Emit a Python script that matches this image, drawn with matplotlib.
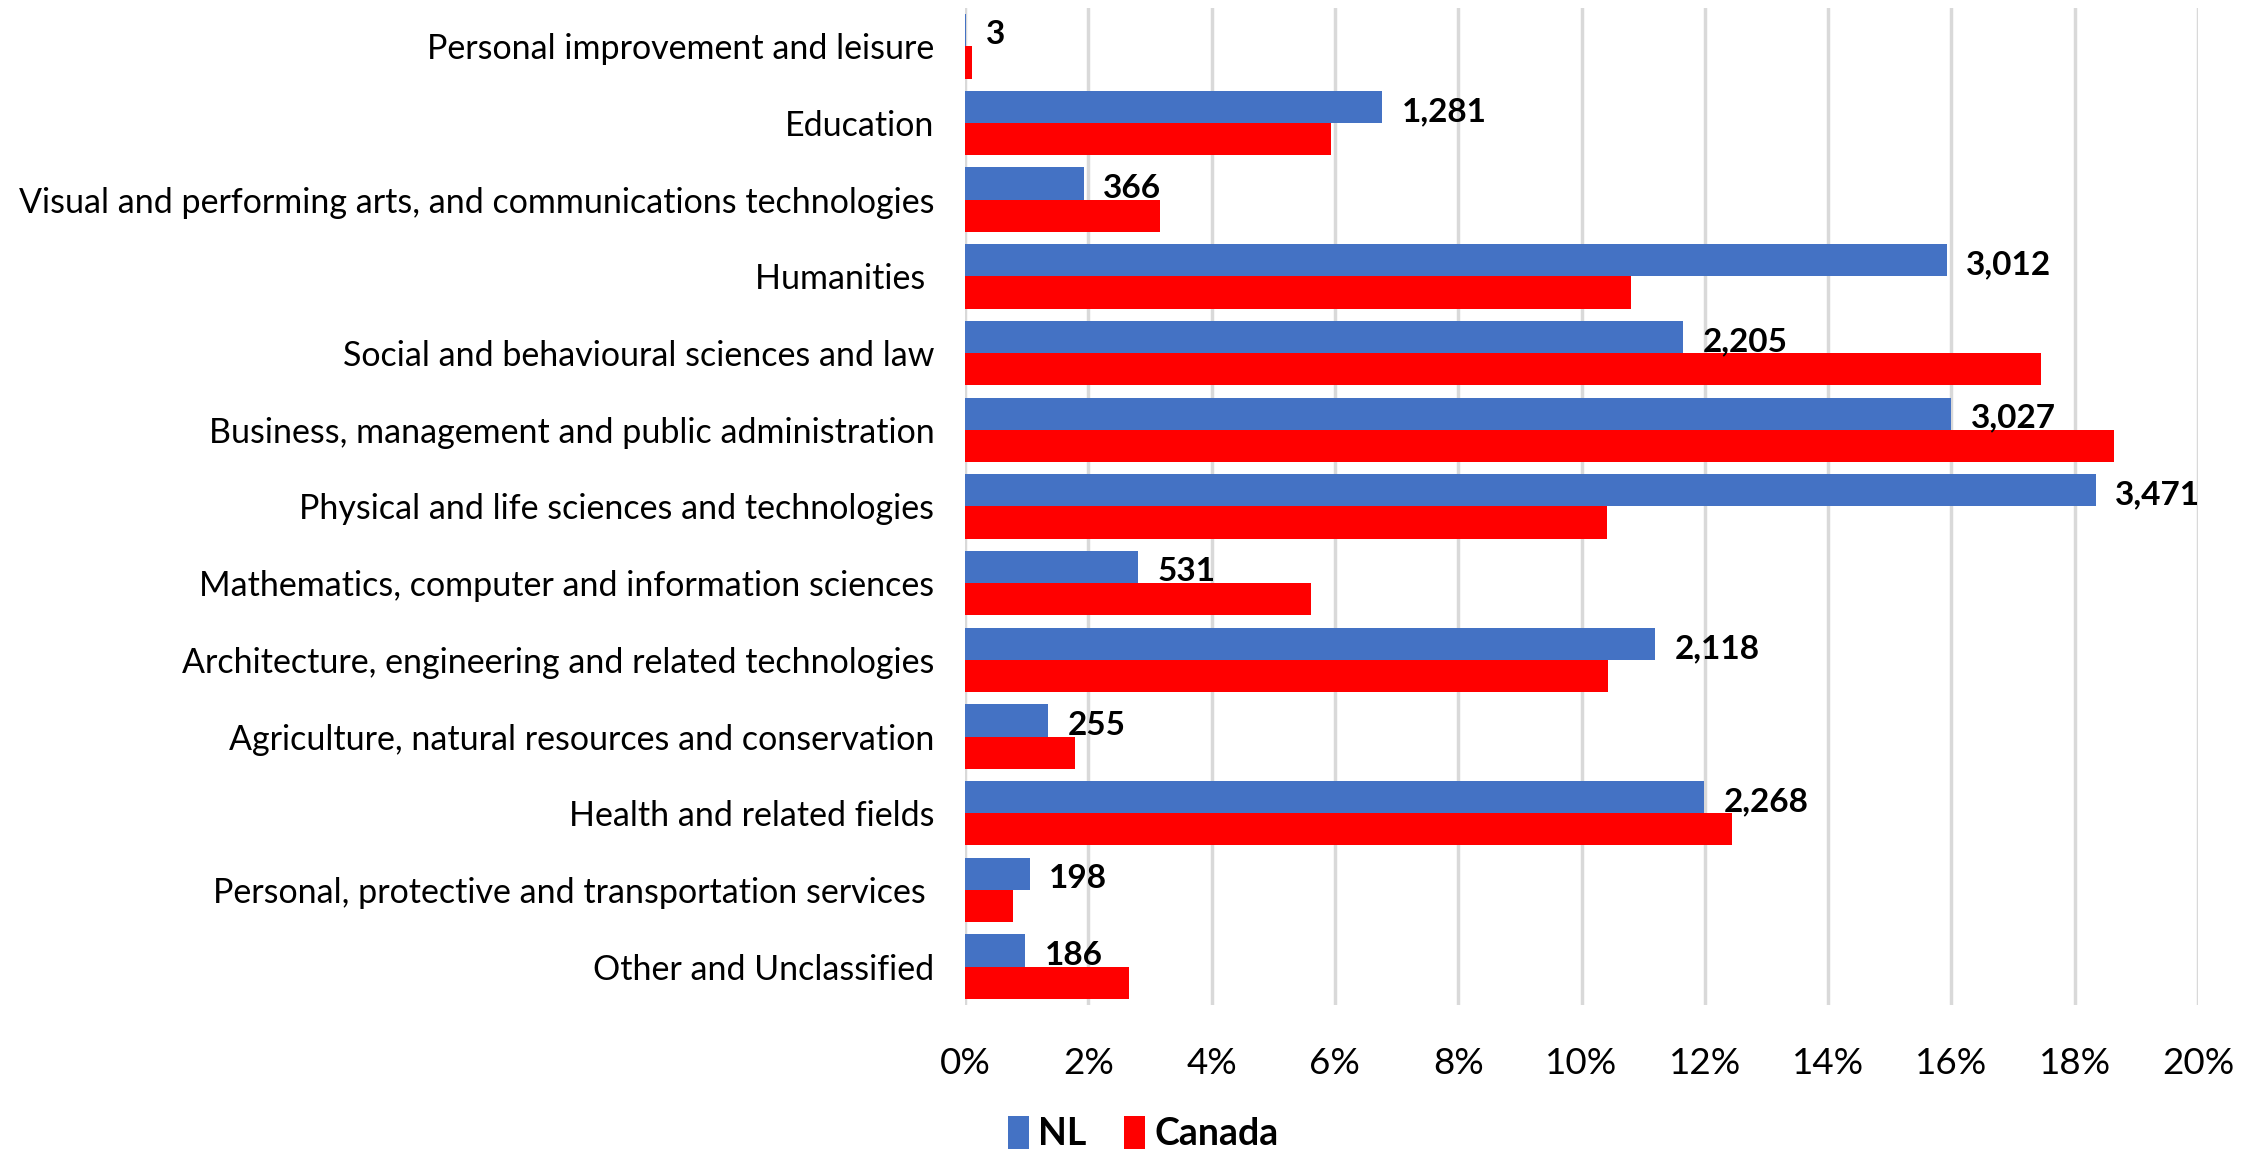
import matplotlib.pyplot as plt
import numpy as np
from matplotlib.ticker import FuncFormatter

plt.rcParams['font.family'] = ['Lato', 'DejaVu Sans']

categories = [
    "Personal improvement and leisure",
    "Education",
    "Visual and performing arts, and communications technologies",
    "Humanities ",
    "Social and behavioural sciences and law",
    "Business, management and public administration",
    "Physical and life sciences and technologies",
    "Mathematics, computer and information sciences",
    "Architecture, engineering and related technologies",
    "Agriculture, natural resources and conservation",
    "Health and related fields",
    "Personal, protective and transportation services ",
    "Other and Unclassified",
]

# share of graduates (%)
nl_pct = [0.02, 6.77, 1.93, 15.92, 11.65, 16.00, 18.34, 2.81, 11.19, 1.35, 11.99, 1.05, 0.98]
canada_pct = [0.12, 5.94, 3.17, 10.80, 17.45, 18.64, 10.41, 5.62, 10.43, 1.79, 12.44, 0.78, 2.66]

# NL counts shown as labels
nl_counts = ["3", "1,281", "366", "3,012", "2,205", "3,027", "3,471", "531",
             "2,118", "255", "2,268", "198", "186"]

blue = "#4472C4"
red = "#FF0000"

fig = plt.figure(figsize=(22.42, 11.52), dpi=100)
ax = fig.add_axes([0.4304, 0.1276, 0.55, 0.8655])

y = np.arange(len(categories))
h = 0.42

ax.barh(y - h / 2, nl_pct, height=h, color=blue, label="NL", zorder=3)
ax.barh(y + h / 2, canada_pct, height=h, color=red, label="Canada", zorder=3)

for yi, v, lab in zip(y, nl_pct, nl_counts):
    ax.annotate(lab, (v, yi - h / 2 + 0.06), xytext=(14, 0), textcoords="offset points",
                ha="left", va="center", fontsize=24, fontweight="bold", color="black",
                zorder=4)

ax.set_ylim(len(categories) - 0.5, -0.5)
ax.set_xlim(0, 20)
ax.set_xticks(np.arange(0, 21, 2))
ax.xaxis.set_major_formatter(FuncFormatter(lambda v, p: f"{v:.0f}%"))
ax.set_yticks(y)
ax.set_yticklabels(categories, fontsize=24.5)

ax.grid(axis="x", color="#D9D9D9", linewidth=2.5, zorder=0)
for s in ax.spines.values():
    s.set_visible(False)
ax.tick_params(axis="y", length=0, pad=22)
ax.tick_params(axis="x", length=0, pad=30, labelsize=26.5)

fig.legend(loc="center", bbox_to_anchor=(0.51, 0.016), ncol=2, frameon=False,
           prop={"size": 27, "weight": "bold"}, handlelength=0.55, handleheight=1.0,
           handletextpad=0.25, columnspacing=1.0)

fig.savefig("out.png", dpi=100)
